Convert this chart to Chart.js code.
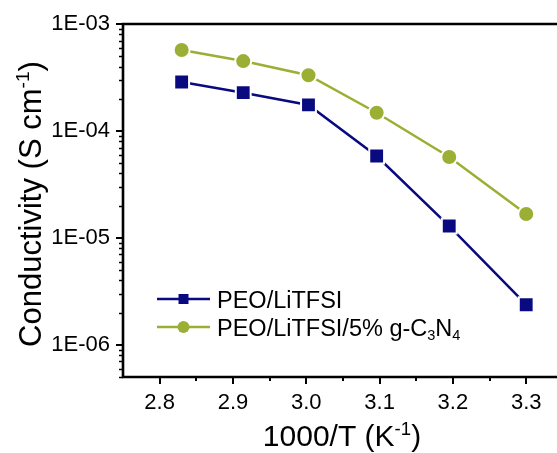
<!DOCTYPE html>
<html>
<head>
<meta charset="utf-8">
<script src="https://cdn.jsdelivr.net/npm/chart.js@4.4.0/dist/chart.umd.min.js"></script>
<style>
  body { margin: 0; background: #fff; }
</style>
</head>
<body>
<canvas id="myChart" width="557" height="453"></canvas>
<script>
// data
const invT = [2.83, 2.914, 3.003, 3.096, 3.195, 3.30];
const peoLitfsi = [2.87e-4, 2.28e-4, 1.75e-4, 5.83e-5, 1.29e-5, 2.37e-6];
const peoGcn = [5.71e-4, 4.5e-4, 3.32e-4, 1.48e-4, 5.7e-5, 1.67e-5];
const seriesNames = ['PEO/LiTFSI', 'PEO/LiTFSI/5% g-C3N4'];
const xTicks = [2.8, 2.9, 3.0, 3.1, 3.2, 3.3];
const xMinorTicks = [2.85, 2.95, 3.05, 3.15, 3.25];
const yTicks = [1e-6, 1e-5, 1e-4, 1e-3];

const navy = '#0a0a80';
const olive = '#9aaf33';
const FONT = '"Liberation Sans", Arial, sans-serif';

// rich text pieces for sub/superscripts
const legendParts = [
  [{t: 'PEO/LiTFSI'}],
  [{t: 'PEO/LiTFSI/5% g-C'}, {t: '3', sub: true}, {t: 'N'}, {t: '4', sub: true}]
];
const yTitleParts = [{t: 'Conductivity (S cm'}, {t: '-1', sup: true}, {t: ')'}];
const xTitleParts = [{t: '1000/T (K'}, {t: '-1', sup: true}, {t: ')'}];

function richWidth(ctx, parts, size) {
  let w = 0;
  parts.forEach(p => {
    const s = (p.sup || p.sub) ? size * 0.62 : size;
    ctx.font = s + 'px ' + FONT;
    w += ctx.measureText(p.t).width;
  });
  return w;
}

function drawRich(ctx, parts, x, y, size, align) {
  let cx = align === 'center' ? x - richWidth(ctx, parts, size) / 2 : x;
  ctx.textAlign = 'left';
  ctx.textBaseline = 'alphabetic';
  parts.forEach(p => {
    const s = (p.sup || p.sub) ? size * 0.62 : size;
    ctx.font = s + 'px ' + FONT;
    let dy = 0;
    if (p.sup) dy = -size * 0.38;
    if (p.sub) dy = size * 0.2;
    ctx.fillText(p.t, cx, y + dy);
    cx += ctx.measureText(p.t).width;
  });
}

function fmtExp(v) {
  const e = Math.round(Math.log10(v));
  return '1E' + (e < 0 ? '-' : '+') + String(Math.abs(e)).padStart(2, '0');
}

const decorPlugin = {
  id: 'decor',
  afterDatasetsDraw(chart) {
    const ctx = chart.ctx;
    const a = chart.chartArea;
    const xs = chart.scales.x, ys = chart.scales.y;
    ctx.save();
    ctx.strokeStyle = '#000';
    ctx.fillStyle = '#000';

    // ticks
    ctx.lineWidth = 2;
    ctx.beginPath();
    xTicks.forEach(v => {
      const px = Math.round(xs.getPixelForValue(v));
      ctx.moveTo(px, a.bottom); ctx.lineTo(px, a.bottom + 7);
    });
    xMinorTicks.forEach(v => {
      const px = Math.round(xs.getPixelForValue(v));
      ctx.moveTo(px, a.bottom); ctx.lineTo(px, a.bottom + 4);
    });
    yTicks.forEach(v => {
      const py = Math.round(ys.getPixelForValue(v));
      ctx.moveTo(a.left, py); ctx.lineTo(a.left - 7, py);
    });
    ctx.stroke();
    ctx.lineWidth = 1.5;
    ctx.beginPath();
    for (let e = -7; e <= -4; e++) {
      for (let k = 2; k <= 9; k++) {
        const v = k * Math.pow(10, e);
        if (v < ys.min || v > ys.max) continue;
        const py = Math.round(ys.getPixelForValue(v)) + 0.5;
        ctx.moveTo(a.left, py); ctx.lineTo(a.left - 4, py);
      }
    }
    ctx.stroke();

    // axis lines: left, bottom, top
    ctx.lineWidth = 2.6;
    ctx.beginPath();
    ctx.moveTo(a.left, a.top); ctx.lineTo(a.left, a.bottom);
    ctx.moveTo(a.left - 1.3, a.bottom); ctx.lineTo(a.right, a.bottom);
    ctx.moveTo(a.left - 1.3, a.top); ctx.lineTo(a.right, a.top);
    ctx.stroke();

    // axis titles
    drawRich(ctx, xTitleParts, 342, 446, 30, 'center');
    ctx.save();
    ctx.translate(41, 204);
    ctx.rotate(-Math.PI / 2);
    drawRich(ctx, yTitleParts, 0, 0, 31, 'center');
    ctx.restore();

    // legend
    const rows = [
      {y: 299, color: navy, style: 'rect'},
      {y: 327, color: olive, style: 'circle'}
    ];
    rows.forEach((r, i) => {
      ctx.strokeStyle = r.color;
      ctx.fillStyle = r.color;
      ctx.lineWidth = 2.5;
      ctx.beginPath();
      ctx.moveTo(157, r.y); ctx.lineTo(210, r.y);
      ctx.stroke();
      ctx.beginPath();
      if (r.style === 'rect') ctx.rect(178.5, r.y - 5, 10, 10);
      else ctx.arc(183.5, r.y, 6, 0, Math.PI * 2);
      ctx.fill();
      ctx.fillStyle = '#000';
      drawRich(ctx, legendParts[i], 217, r.y + 8.5, 23.5, 'left');
    });
    ctx.restore();
  }
};

const ctx = document.getElementById('myChart').getContext('2d');

const myChart = new Chart(ctx, {
  type: 'scatter',
  data: {
    datasets: [
      {
        label: seriesNames[0],
        data: invT.map((x, i) => ({x: x, y: peoLitfsi[i]})),
        showLine: true,
        borderColor: navy,
        backgroundColor: navy,
        borderWidth: 2.5,
        pointStyle: 'rect',
        pointRadius: 10.5,
        pointHoverRadius: 10.5,
        pointBorderColor: '#fff',
        pointBorderWidth: 2
      },
      {
        label: seriesNames[1],
        data: invT.map((x, i) => ({x: x, y: peoGcn[i]})),
        showLine: true,
        borderColor: olive,
        backgroundColor: olive,
        borderWidth: 2.5,
        pointStyle: 'circle',
        pointRadius: 8,
        pointHoverRadius: 8,
        pointBorderColor: '#fff',
        pointBorderWidth: 2
      }
    ]
  },
  options: {
    responsive: false,
    animation: false,
    events: [],
    layout: { autoPadding: false, padding: { top: 24, right: 0, left: 0, bottom: 0 } },
    plugins: {
      legend: { display: false },
      tooltip: { enabled: false }
    },
    scales: {
      x: {
        type: 'linear',
        min: 2.75,
        max: 3.342,
        grid: { display: false, drawTicks: false },
        border: { display: false },
        afterBuildTicks: scale => { scale.ticks = xTicks.map(v => ({value: v})); },
        afterFit: scale => {
          scale.height = 76;
          scale.paddingLeft = 0;
          scale.paddingRight = 0;
        },
        ticks: {
          autoSkip: false,
          maxRotation: 0,
          padding: 13,
          color: '#000',
          font: { family: FONT, size: 22 },
          callback: v => v.toFixed(1)
        }
      },
      y: {
        type: 'logarithmic',
        min: 5e-7,
        max: 1e-3,
        grid: { display: false, drawTicks: false },
        border: { display: false },
        afterBuildTicks: scale => { scale.ticks = yTicks.map(v => ({value: v})); },
        afterFit: scale => {
          scale.width = 123;
          scale.paddingTop = 0;
          scale.paddingBottom = 0;
        },
        ticks: {
          autoSkip: false,
          padding: 13,
          color: '#000',
          font: { family: FONT, size: 22 },
          callback: v => fmtExp(v)
        }
      }
    }
  },
  plugins: [decorPlugin]
});
</script>
</body>
</html>
